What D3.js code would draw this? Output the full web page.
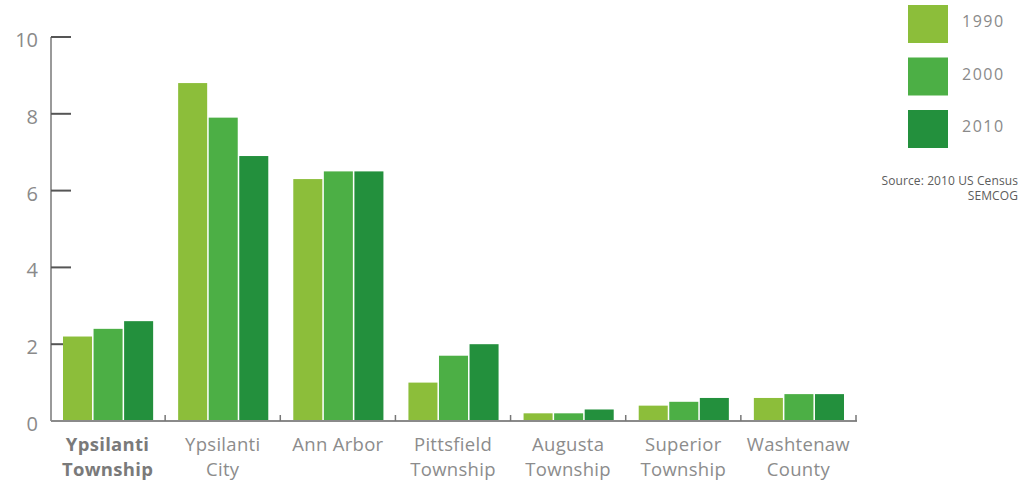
<!DOCTYPE html>
<html>
<head>
<meta charset="utf-8">
<script src="https://cdn.jsdelivr.net/npm/d3@7"></script>
<style>
  html, body { margin: 0; padding: 0; background: #fff; }
  svg { display: block; font-family: "Open Sans", "DejaVu Sans", sans-serif; }
</style>
</head>
<body>
<svg id="chart" width="1029" height="482"></svg>
<script>
// Places shown along the x axis (two-line labels)
const places = [
  ["Ypsilanti", "Township"],
  ["Ypsilanti", "City"],
  ["Ann Arbor"],
  ["Pittsfield", "Township"],
  ["Augusta", "Township"],
  ["Superior", "Township"],
  ["Washtenaw", "County"]
];
const years = ["1990", "2000", "2010"];
const values1990 = [2.2, 8.8, 6.3, 1.0, 0.2, 0.4, 0.6];
const values2000 = [2.4, 7.9, 6.5, 1.7, 0.2, 0.5, 0.7];
const values2010 = [2.6, 6.9, 6.5, 2.0, 0.3, 0.6, 0.7];
const yTicks = [0, 2, 4, 6, 8, 10];
const sourceLines = ["Source: 2010 US Census", "SEMCOG"];

const seriesValues = [values1990, values2000, values2010];
const colors = ["#8cbe3a", "#4caf45", "#23903d"];

const svg = d3.select("#chart");
const plotLeft = 51, plotRight = 857, plotTop = 37, plotBottom = 421;

const x = d3.scaleBand().domain(d3.range(places.length)).range([plotLeft, plotRight]).paddingInner(0).paddingOuter(0);
const xSub = d3.scaleBand().domain(d3.range(years.length)).range([12, x.bandwidth() - 13]).paddingInner(0.05);
const y = d3.scaleLinear().domain([0, 10]).range([plotBottom, plotTop]);

// y axis line and ticks
svg.append("line")
  .attr("x1", plotLeft).attr("x2", plotLeft)
  .attr("y1", plotTop).attr("y2", plotBottom)
  .attr("stroke", "#9a9a9a").attr("stroke-width", 2);

const yt = svg.append("g");
yt.selectAll("line").data(yTicks.filter(d => d > 0)).join("line")
  .attr("x1", plotLeft).attr("x2", plotLeft + 20)
  .attr("y1", d => y(d)).attr("y2", d => y(d))
  .attr("stroke", "#555").attr("stroke-width", 2);
yt.selectAll("text").data(yTicks).join("text")
  .attr("x", 38).attr("y", d => y(d) + 10)
  .attr("text-anchor", "end")
  .attr("font-size", 20).attr("fill", "#8a8a8a")
  .text(d => d);

// bars
places.forEach((p, i) => {
  const g = svg.append("g").attr("transform", `translate(${x(i)},0)`);
  g.selectAll("rect").data(seriesValues.map((s, k) => ({ k, v: s[i] }))).join("rect")
    .attr("x", d => xSub(d.k))
    .attr("width", xSub.bandwidth())
    .attr("y", d => y(d.v))
    .attr("height", d => y(0) - y(d.v))
    .attr("fill", d => colors[d.k]);
});

// baseline with small category separators
svg.append("line")
  .attr("x1", plotLeft).attr("x2", plotRight)
  .attr("y1", plotBottom).attr("y2", plotBottom)
  .attr("stroke", "#8a8a8a").attr("stroke-width", 2);
svg.selectAll(".sep").data(d3.range(1, places.length + 1)).join("line")
  .attr("class", "sep")
  .attr("x1", d => x(d - 1) + x.bandwidth() - 1).attr("x2", d => x(d - 1) + x.bandwidth() - 1)
  .attr("y1", plotBottom - 6).attr("y2", plotBottom)
  .attr("stroke", "#777").attr("stroke-width", 1.5);

// category labels, one text element per line
places.forEach((p, i) => {
  const cx = x(i) + x.bandwidth() / 2 - 1;
  p.forEach((line, j) => {
    svg.append("text")
      .attr("x", cx)
      .attr("y", 451 + j * 25)
      .attr("text-anchor", "middle")
      .attr("font-size", 18.5)
      .attr("letter-spacing", 0.3)
      .attr("fill", i === 0 ? "#7a7a7a" : "#8c8c8c")
      .attr("font-weight", i === 0 ? "bold" : "normal")
      .text(line);
  });
});

// legend
const lg = svg.append("g");
years.forEach((yr, k) => {
  lg.append("rect")
    .attr("x", 908).attr("y", 5 + k * 52.5)
    .attr("width", 40).attr("height", 38)
    .attr("fill", colors[k]);
  lg.append("text")
    .attr("x", 962).attr("y", 27 + k * 52.5)
    .attr("font-size", 16).attr("letter-spacing", 1.5).attr("fill", "#8a8a8a")
    .text(yr);
});

// source note
sourceLines.forEach((s, j) => {
  svg.append("text")
    .attr("x", 1018).attr("y", 185 + j * 15)
    .attr("text-anchor", "end")
    .attr("font-size", 12).attr("letter-spacing", 0.1).attr("fill", "#5c5c5c")
    .text(s);
});
</script>
</body>
</html>
